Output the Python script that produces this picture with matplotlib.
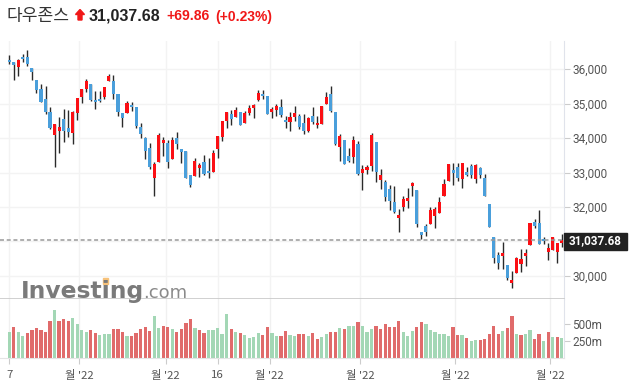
import matplotlib.pyplot as plt
from matplotlib.patches import Rectangle, Polygon
import numpy as np

# daily OHLC
opens = [36269, 36211, 36067, 36356, 36356, 36038, 35692, 35433, 35135, 34740,
         34087, 34202, 34538, 34279, 34144, 34721, 35192, 35413, 35558, 35115,
         35144, 35183, 35644, 35663, 35288, 34711, 34731, 34971, 34885, 34327,
         33990, 33702, 32846, 33308, 33856, 33856, 33394, 33990, 33673, 33615,
         32923, 32885, 33135, 33298, 33038, 33018, 33689, 34024, 34485, 34705,
         34609, 34763, 34437, 34725, 34869, 35108, 35281, 35223, 34744, 34821,
         34907, 34533, 34456, 34609, 34648, 34446, 34207, 34648, 34370, 34408,
         34984, 35281, 34763, 33737, 33929, 33468, 33459, 33814, 32979, 33074,
         33192, 33875, 32788, 32711, 32518, 32134, 31691, 31999, 32182, 32615,
         32490, 31277, 31451, 31508, 31749, 31826, 32307, 32759, 33076, 33173,
         32826, 33028, 33192, 32826, 33124, 32855, 32085, 31142, 30600, 30580,
         30309, 29806, 30096, 30358, 30580, 30900, 31577, 31548, 31084, 30706,
         30755, 30697, 30968]
highs = [36413, 36211, 36298, 36423, 36548, 36038, 35692, 35567, 35510, 34913,
         34394, 34615, 34846, 34798, 34788, 35173, 35433, 35721, 35558, 35365,
         35356, 35490, 35856, 35836, 35288, 34711, 35077, 35058, 34885, 34433,
         34019, 33846, 33308, 34135, 34029, 33933, 34038, 34183, 33673, 33615,
         32923, 33412, 33288, 33519, 33423, 33651, 34072, 34504, 34763, 34821,
         34897, 34763, 34773, 34964, 34993, 35396, 35396, 35223, 34897, 34993,
         35127, 34629, 34744, 34917, 34705, 34705, 34609, 34897, 34648, 34936,
         35329, 35511, 34763, 34130, 33929, 33696, 34072, 33909, 33229, 33209,
         34135, 33875, 33096, 32778, 32634, 32595, 31941, 32307, 32538, 32711,
         32490, 31277, 31508, 32009, 32009, 32278, 32807, 33260, 33269, 33269,
         33269, 33163, 33259, 33240, 33163, 32951, 32085, 31142, 30697, 30987,
         30309, 30145, 30561, 30774, 30774, 31529, 31645, 31907, 31142, 30948,
         31142, 30968, 31210]
lows = [36144, 35673, 35788, 36192, 36096, 35692, 35308, 35048, 34702, 34250,
        33173, 33577, 33894, 34038, 33836, 34529, 35029, 35327, 35077, 34846,
        35038, 35135, 35644, 35135, 34644, 34327, 34721, 34769, 34288, 34010,
        33404, 33115, 32308, 33308, 33490, 33144, 33394, 33673, 33288, 32827,
        32577, 32885, 32856, 32923, 32846, 33018, 33420, 33909, 34293, 34389,
        34609, 34370, 34437, 34667, 34581, 35079, 35137, 34696, 34571, 34648,
        34609, 34293, 34197, 34485, 34274, 34130, 34168, 34418, 34284, 34408,
        34984, 34753, 33784, 33334, 33257, 33305, 33286, 32922, 32490, 32950,
        33048, 32730, 32518, 32182, 31912, 31826, 31268, 31893, 31960, 32326,
        31412, 31075, 31172, 31508, 31383, 31826, 32307, 32759, 32634, 32759,
        32538, 32894, 32855, 32682, 32836, 32307, 31412, 30387, 30193, 30193,
        29883, 29661, 30096, 30116, 30290, 30900, 31403, 30919, 30938, 30455,
        30755, 30367, 30842]
closes = [36192, 36106, 36269, 36279, 36135, 35923, 35385, 35048, 34740, 34279,
          34394, 34327, 34202, 34173, 34740, 35173, 35433, 35663, 35115, 35038,
          35067, 35490, 35808, 35269, 34750, 34577, 35029, 34894, 34346, 34115,
          33625, 33173, 33240, 34077, 33944, 33308, 33933, 33827, 33596, 32846,
          32644, 33327, 33221, 32962, 32975, 33555, 34072, 34504, 34763, 34562,
          34821, 34370, 34734, 34878, 34964, 35300, 35204, 34696, 34840, 34936,
          34657, 34456, 34619, 34734, 34312, 34216, 34590, 34456, 34446, 34936,
          35185, 34792, 33814, 34072, 33257, 33334, 33929, 32970, 33094, 33151,
          34077, 33019, 32922, 32278, 32182, 31864, 31768, 32230, 32259, 32692,
          31508, 31200, 31287, 31912, 31941, 32153, 32663, 33240, 32990, 32836,
          33269, 32922, 32932, 33211, 32932, 32307, 31412, 30532, 30387, 30677,
          29951, 29874, 30532, 30484, 30677, 31529, 31452, 30938, 31006, 30803,
          31116, 30968, 31037.68]
prev_close = 36100
# volume in millions
volumes = [380, 455, 380, 320, 365, 405, 440, 410, 380, 540,
           705, 540, 570, 540, 585, 495, 405, 380, 405, 360,
           335, 350, 350, 420, 420, 375, 320, 320, 360, 420,
           455, 390, 620, 440, 470, 455, 420, 380, 420, 510,
           570, 435, 405, 360, 405, 405, 440, 350, 650, 420,
           380, 360, 330, 285, 305, 360, 330, 455, 360, 320,
           320, 390, 335, 320, 350, 350, 320, 360, 270, 300,
           345, 375, 375, 435, 420, 470, 470, 525, 470, 375,
           420, 465, 430, 495, 450, 450, 540, 375, 315, 390,
           450, 525, 495, 405, 375, 345, 345, 315, 450, 330,
           330, 285, 240, 265, 255, 280, 355, 465, 355, 390,
           435, 615, 345, 330, 355, 405, 280, 345, 250, 375,
           300, 300, 285]

tick_pos = [0, 15.5, 34.5, 46, 57.5, 77.5, 98.5, 119.5]
tick_labels = ["7", "월 '22", "월 '22", "16", "월 '22", "월 '22", "월 '22", "월 '22"]
price_ticks = [30000, 31000, 32000, 33000, 34000, 35000, 36000]
vol_ticks = [250, 500]

last = closes[-1]
change = 69.86
change_pct = 0.23

W, H = 629, 383
fig = plt.figure(figsize=(W / 100, H / 100), dpi=100)

def fx(px):
    return px / W

def fy(py):
    return 1 - py / H

ax_p = fig.add_axes([0, fy(299), fx(564), (299 - 41) / H])
ax_v = fig.add_axes([0, fy(357.5), fx(564), (357.5 - 299) / H], sharex=ax_p)

o = np.array(opens, float)
c = np.array(closes, float)
x = np.arange(len(c))
up = c >= o
body_col = np.where(up, '#fb0f14', '#4a9fdb')

ax_p.vlines(x, lows, highs, color='#2a2a2a', lw=1.0, zorder=2)
ax_p.bar(x, np.maximum(np.abs(c - o), 18), bottom=np.minimum(o, c), width=0.68,
         color=body_col, zorder=3)
ax_p.axhline(last, color='#999999', lw=1.1, ls=(0, (2.6, 1.8)), zorder=4)

vol_up = np.diff(np.r_[prev_close, c]) >= 0
ax_v.bar(x, volumes, width=0.72, color=np.where(vol_up, '#a3d7b5', '#e06b6b'), zorder=2)

ax_p.set_xlim(-2.05, 122.5)
ax_p.set_ylim(29333, 36812)
ax_v.set_ylim(0, 870)

fs_tick = 8.5
for ax in (ax_p, ax_v):
    ax.yaxis.tick_right()
    ax.spines['top'].set_visible(False)
    ax.spines['left'].set_visible(False)
    ax.spines['right'].set_color('#e0e3eb')
    ax.set_axisbelow(True)
    ax.tick_params(axis='y', length=4, width=0.8, color='#cccccc', pad=2,
                   labelsize=fs_tick, labelcolor='#555555')

ax_p.spines['bottom'].set_color('#c8c8c8')
ax_p.spines['bottom'].set_linewidth(1.2)
ax_v.spines['bottom'].set_color('#e4e4e4')

# the 31,000 label sits under the price tag, so it is left blank
ax_p.set_yticks(price_ticks)
ax_p.set_yticklabels(["" if t == 31000 else f"{t:,}" for t in price_ticks], family='Roboto')
ax_p.grid(True, color='#f3f3f3', lw=1)
ax_p.set_xticks(tick_pos)
ax_p.tick_params(axis='x', length=0, labelbottom=False)

ax_v.set_yticks(vol_ticks)
ax_v.set_yticklabels([f"{t}m" for t in vol_ticks], family='Roboto')
ax_v.grid(True, axis='x', color='#f0f0f0', lw=1)
ax_v.set_xticks(tick_pos)
ax_v.set_xticklabels(tick_labels, family=['Noto Sans CJK KR', 'DejaVu Sans'])
ax_v.tick_params(axis='x', length=4, width=0.8, color='#cccccc', pad=5,
                 labelsize=8.2, labelcolor='#555555')

# current price tag on the right axis
fig.add_artist(Rectangle((fx(564), fy(249.5)), fx(626.5) - fx(564), (249.5 - 232.5) / H,
                         transform=fig.transFigure, color='#222222', zorder=5))
fig.text(fx(595.5), fy(241), f"{last:,.2f}", color='white', fontsize=8.4,
         fontweight='bold', family='Roboto', ha='center', va='center', zorder=6)

# header
fig.text(fx(7), fy(20.5), "다우존스", family=['Noto Sans CJK KR', 'DejaVu Sans'],
         fontsize=12.3, color='#333333', va='baseline')
fig.add_artist(Polygon([(fx(80), fy(9.5)), (fx(84.5), fy(14.5)), (fx(82), fy(14.5)),
                        (fx(82), fy(20)), (fx(78), fy(20)), (fx(78), fy(14.5)),
                        (fx(75.5), fy(14.5))], closed=True, transform=fig.transFigure,
                       color='#f01818'))
fig.text(fx(89), fy(20.5), f"{last:,.2f}", family='Liberation Sans', fontweight='bold',
         fontsize=11.5, color='#222222', va='baseline')
fig.text(fx(166), fy(20.5), f"+{change:.2f}", family='Liberation Sans', fontweight='bold',
         fontsize=10, color='#f01818', va='baseline')
fig.text(fx(215), fy(20.5), f"(+{change_pct:.2f}%)", family='Liberation Sans',
         fontweight='bold', fontsize=10, color='#f01818', va='baseline')

# watermark
fig.text(fx(21), fy(298), "Investing", family='DejaVu Sans', fontweight='bold',
         fontsize=16.8, color='#7a7a7a', va='baseline')
fig.text(fx(143), fy(298), ".com", family='DejaVu Sans', fontsize=13,
         color='#8a8a8a', va='baseline')
fig.add_artist(Rectangle((fx(102.5), fy(284)), fx(5.5), 6.5 / H,
                         transform=fig.transFigure, color='#f7c27a'))

fig.savefig('out.png', dpi=100)
